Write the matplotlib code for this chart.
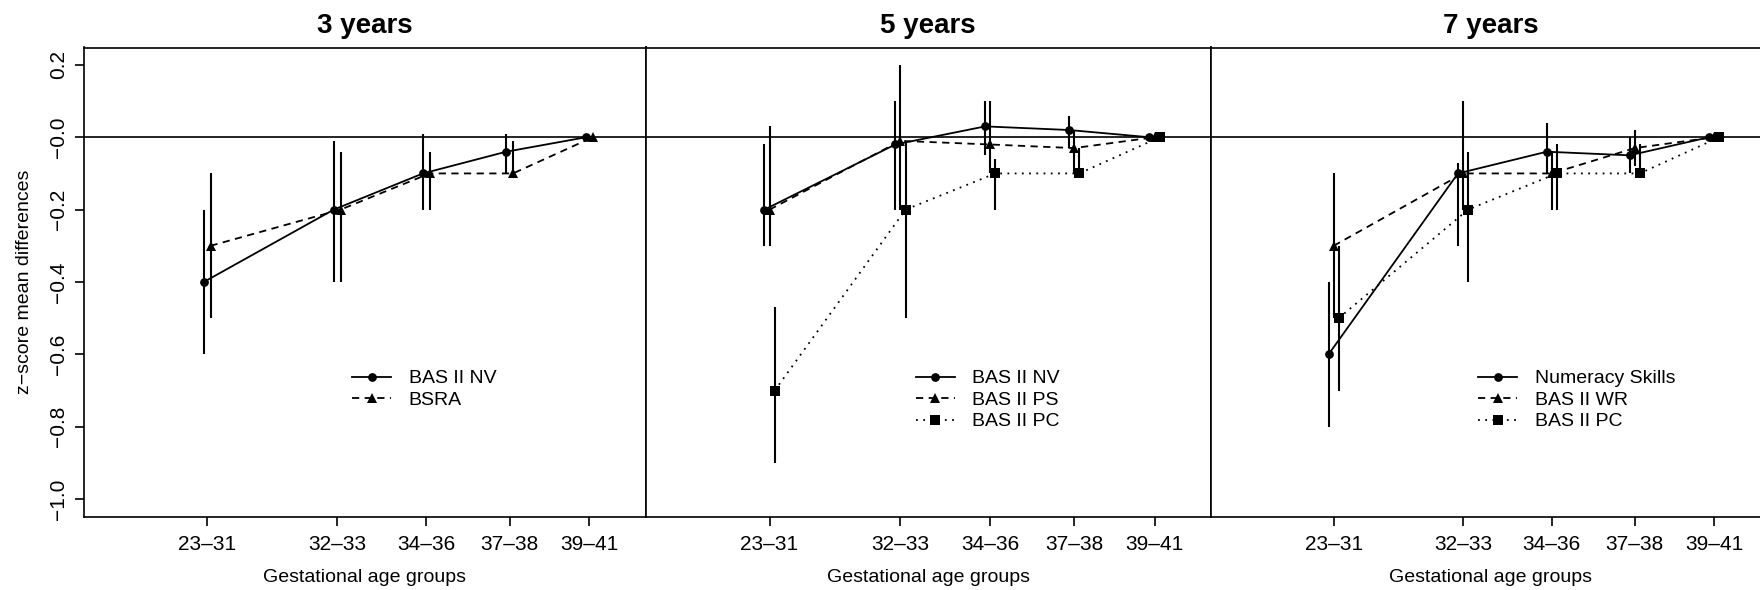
import numpy as np
import matplotlib
matplotlib.use("Agg")
import matplotlib.pyplot as plt
from matplotlib.lines import Line2D

plt.rcParams['font.family'] = ['Liberation Sans', 'DejaVu Sans']

AGE_GROUPS = ["23–31", "32–33", "34–36", "37–38", "39–41"]
# x value of each gestational age group (uneven spacing, as in the paper)
GROUP_X = [1.0, 2.53, 3.58, 4.56, 5.5]

# 3 years
nv3_mean = [-0.40, -0.20, -0.10, -0.04, 0.0]
nv3_lo = [-0.60, -0.40, -0.20, -0.10, 0.0]
nv3_hi = [-0.20, -0.01, 0.01, 0.01, 0.0]
bsra3_mean = [-0.30, -0.20, -0.10, -0.10, 0.0]
bsra3_lo = [-0.50, -0.40, -0.20, -0.10, 0.0]
bsra3_hi = [-0.10, -0.04, -0.04, -0.01, 0.0]

# 5 years
nv5_mean = [-0.20, -0.02, 0.03, 0.02, 0.0]
nv5_lo = [-0.30, -0.20, -0.05, -0.03, 0.0]
nv5_hi = [-0.02, 0.10, 0.10, 0.06, 0.0]
ps5_mean = [-0.20, -0.01, -0.02, -0.03, 0.0]
ps5_lo = [-0.30, -0.20, -0.10, -0.10, 0.0]
ps5_hi = [0.03, 0.20, 0.10, 0.02, 0.0]
pc5_mean = [-0.70, -0.20, -0.10, -0.10, 0.0]
pc5_lo = [-0.90, -0.50, -0.20, -0.10, 0.0]
pc5_hi = [-0.47, -0.01, -0.06, -0.03, 0.0]

# 7 years
num7_mean = [-0.60, -0.10, -0.04, -0.05, 0.0]
num7_lo = [-0.80, -0.30, -0.10, -0.10, 0.0]
num7_hi = [-0.40, -0.07, 0.04, 0.00, 0.0]
wr7_mean = [-0.30, -0.10, -0.10, -0.03, 0.0]
wr7_lo = [-0.50, -0.20, -0.20, -0.08, 0.0]
wr7_hi = [-0.10, 0.10, -0.04, 0.02, 0.0]
pc7_mean = [-0.50, -0.20, -0.10, -0.10, 0.0]
pc7_lo = [-0.70, -0.40, -0.20, -0.10, 0.0]
pc7_hi = [-0.30, -0.04, -0.02, -0.02, 0.0]

# line / marker style per series slot
SOLID = dict(ls='-', marker='o', ms=6.3)
DASHED = dict(ls=(0, (4, 3)), marker='^', ms=7)
DOTTED = dict(ls=(0, (1, 3)), marker='s', ms=6.5)

panels = [
    ("3 years", [("BAS II NV", nv3_mean, nv3_lo, nv3_hi, SOLID),
                 ("BSRA", bsra3_mean, bsra3_lo, bsra3_hi, DASHED)]),
    ("5 years", [("BAS II NV", nv5_mean, nv5_lo, nv5_hi, SOLID),
                 ("BAS II PS", ps5_mean, ps5_lo, ps5_hi, DASHED),
                 ("BAS II PC", pc5_mean, pc5_lo, pc5_hi, DOTTED)]),
    ("7 years", [("Numeracy Skills", num7_mean, num7_lo, num7_hi, SOLID),
                 ("BAS II WR", wr7_mean, wr7_lo, wr7_hi, DASHED),
                 ("BAS II PC", pc7_mean, pc7_lo, pc7_hi, DOTTED)]),
]

W, H = 1760, 590
fig = plt.figure(figsize=(W / 100, H / 100), dpi=100)

top_px, bot_px = 47.5, 516.5
boxes = [(84, 645.5), (645.5, 1211), (1211, 1770)]

for i, ((title, series), (x0, x1)) in enumerate(zip(panels, boxes)):
    ax = fig.add_axes([x0 / W, 1 - bot_px / H, (x1 - x0) / W, (bot_px - top_px) / H])
    n = len(series)
    offsets = [-0.04, 0.04] if n == 2 else [-0.06, 0.0, 0.06]
    handles = []
    for (label, mean, lo, hi, style), off in zip(series, offsets):
        x = np.array(GROUP_X) + off
        ax.vlines(x, lo, hi, color='black', lw=1.5, zorder=2)
        ax.plot(x, mean, color='black', lw=1.3, ls=style['ls'], zorder=3)
        ax.plot(x, mean, color='black', ls='none', marker=style['marker'],
                ms=style['ms'], mew=0, zorder=4)
        handles.append(Line2D([], [], color='black', lw=1.3, ls=style['ls'],
                              marker=style['marker'], ms=style['ms'], mew=0,
                              label=label))
    ax.axhline(0, color='black', lw=1.2, zorder=1)

    ax.set_xlim(-0.45, 6.16)
    ax.set_ylim(-1.048, 0.248)
    ax.set_xticks(GROUP_X)
    ax.set_xticklabels(AGE_GROUPS)
    ax.tick_params(axis='x', direction='out', length=6.5, width=1.2,
                   labelsize=15, pad=7)
    if i == 0:
        yt = np.round(np.arange(-1.0, 0.21, 0.2), 1)
        ax.set_yticks(yt)
        ax.set_yticklabels([f"{v:.1f}".replace("-", "−") for v in yt],
                           rotation=90, va='center')
        ax.tick_params(axis='y', direction='out', length=6.5, width=1.2,
                       labelsize=15, pad=5)
    else:
        ax.set_yticks([])
    for s in ax.spines.values():
        s.set_linewidth(1.2)

    ax.legend(handles=handles, loc='upper left', bbox_to_anchor=(0.478, 0.313),
              frameon=False, borderpad=0, borderaxespad=0, handlelength=2.0,
              handletextpad=0.9, labelspacing=0.2, fontsize=14)

    cx = (x0 + x1) / 2 / W
    fig.text(cx, 1 - 33 / H, title, ha='center', va='baseline',
             fontsize=20, fontweight='bold')
    fig.text(cx, 1 - 577 / H, "Gestational age groups", ha='center',
             va='center', fontsize=14)

fig.text(25 / W, 1 - 282 / H, "z−score mean differences", rotation=90,
         ha='center', va='center', fontsize=14)

fig.savefig("out.png", dpi=100)
